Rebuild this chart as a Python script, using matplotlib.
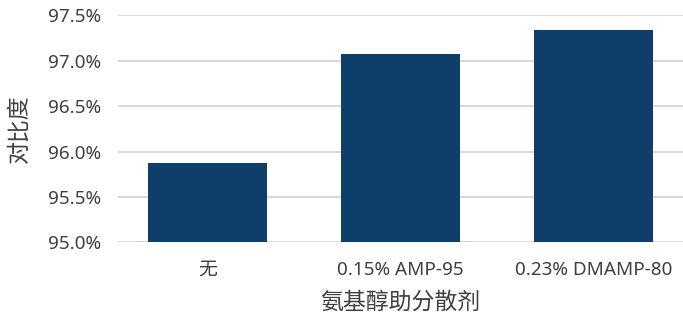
import matplotlib
matplotlib.use("Agg")
import matplotlib.pyplot as plt
from matplotlib.ticker import FuncFormatter

plt.rcParams['font.family'] = ['Noto Sans', 'Noto Sans CJK SC', 'DejaVu Sans']

categories = ["无", "0.15% AMP-95", "0.23% DMAMP-80"]
contrast = [95.87, 97.07, 97.34]
yticks = [95.0, 95.5, 96.0, 96.5, 97.0, 97.5]

textColor = "#404040"
barColor = "#0d3f6a"

fig = plt.figure(figsize=(6.83, 3.16), dpi=100)
ax = fig.add_axes([0.1728, 0.2326, 0.8272, 0.719])

xs = range(len(categories))
ax.bar(xs, contrast, width=0.617, color=barColor, zorder=3)

ax.set_ylim(95.0, 97.5)
ax.set_xlim(-0.464, 2.464)
ax.set_yticks(yticks)
ax.yaxis.set_major_formatter(FuncFormatter(lambda v, p: "%.1f%%" % v))
ax.set_xticks(list(xs))
ax.set_xticklabels(categories)

ax.grid(axis='y', color='#d0d0d0', linewidth=1.2, zorder=0)
ax.tick_params(axis='both', length=0, labelsize=13.6, labelcolor=textColor)
ax.tick_params(axis='y', pad=12)
ax.tick_params(axis='x', pad=13)
for s in ax.spines.values():
    s.set_visible(False)

ax.set_ylabel("对比度", fontsize=16.5, color=textColor, labelpad=12)
ax.set_xlabel("氨基醇助分散剂", fontsize=16.5, color=textColor, labelpad=9)

fig.savefig("out.png", dpi=100)
